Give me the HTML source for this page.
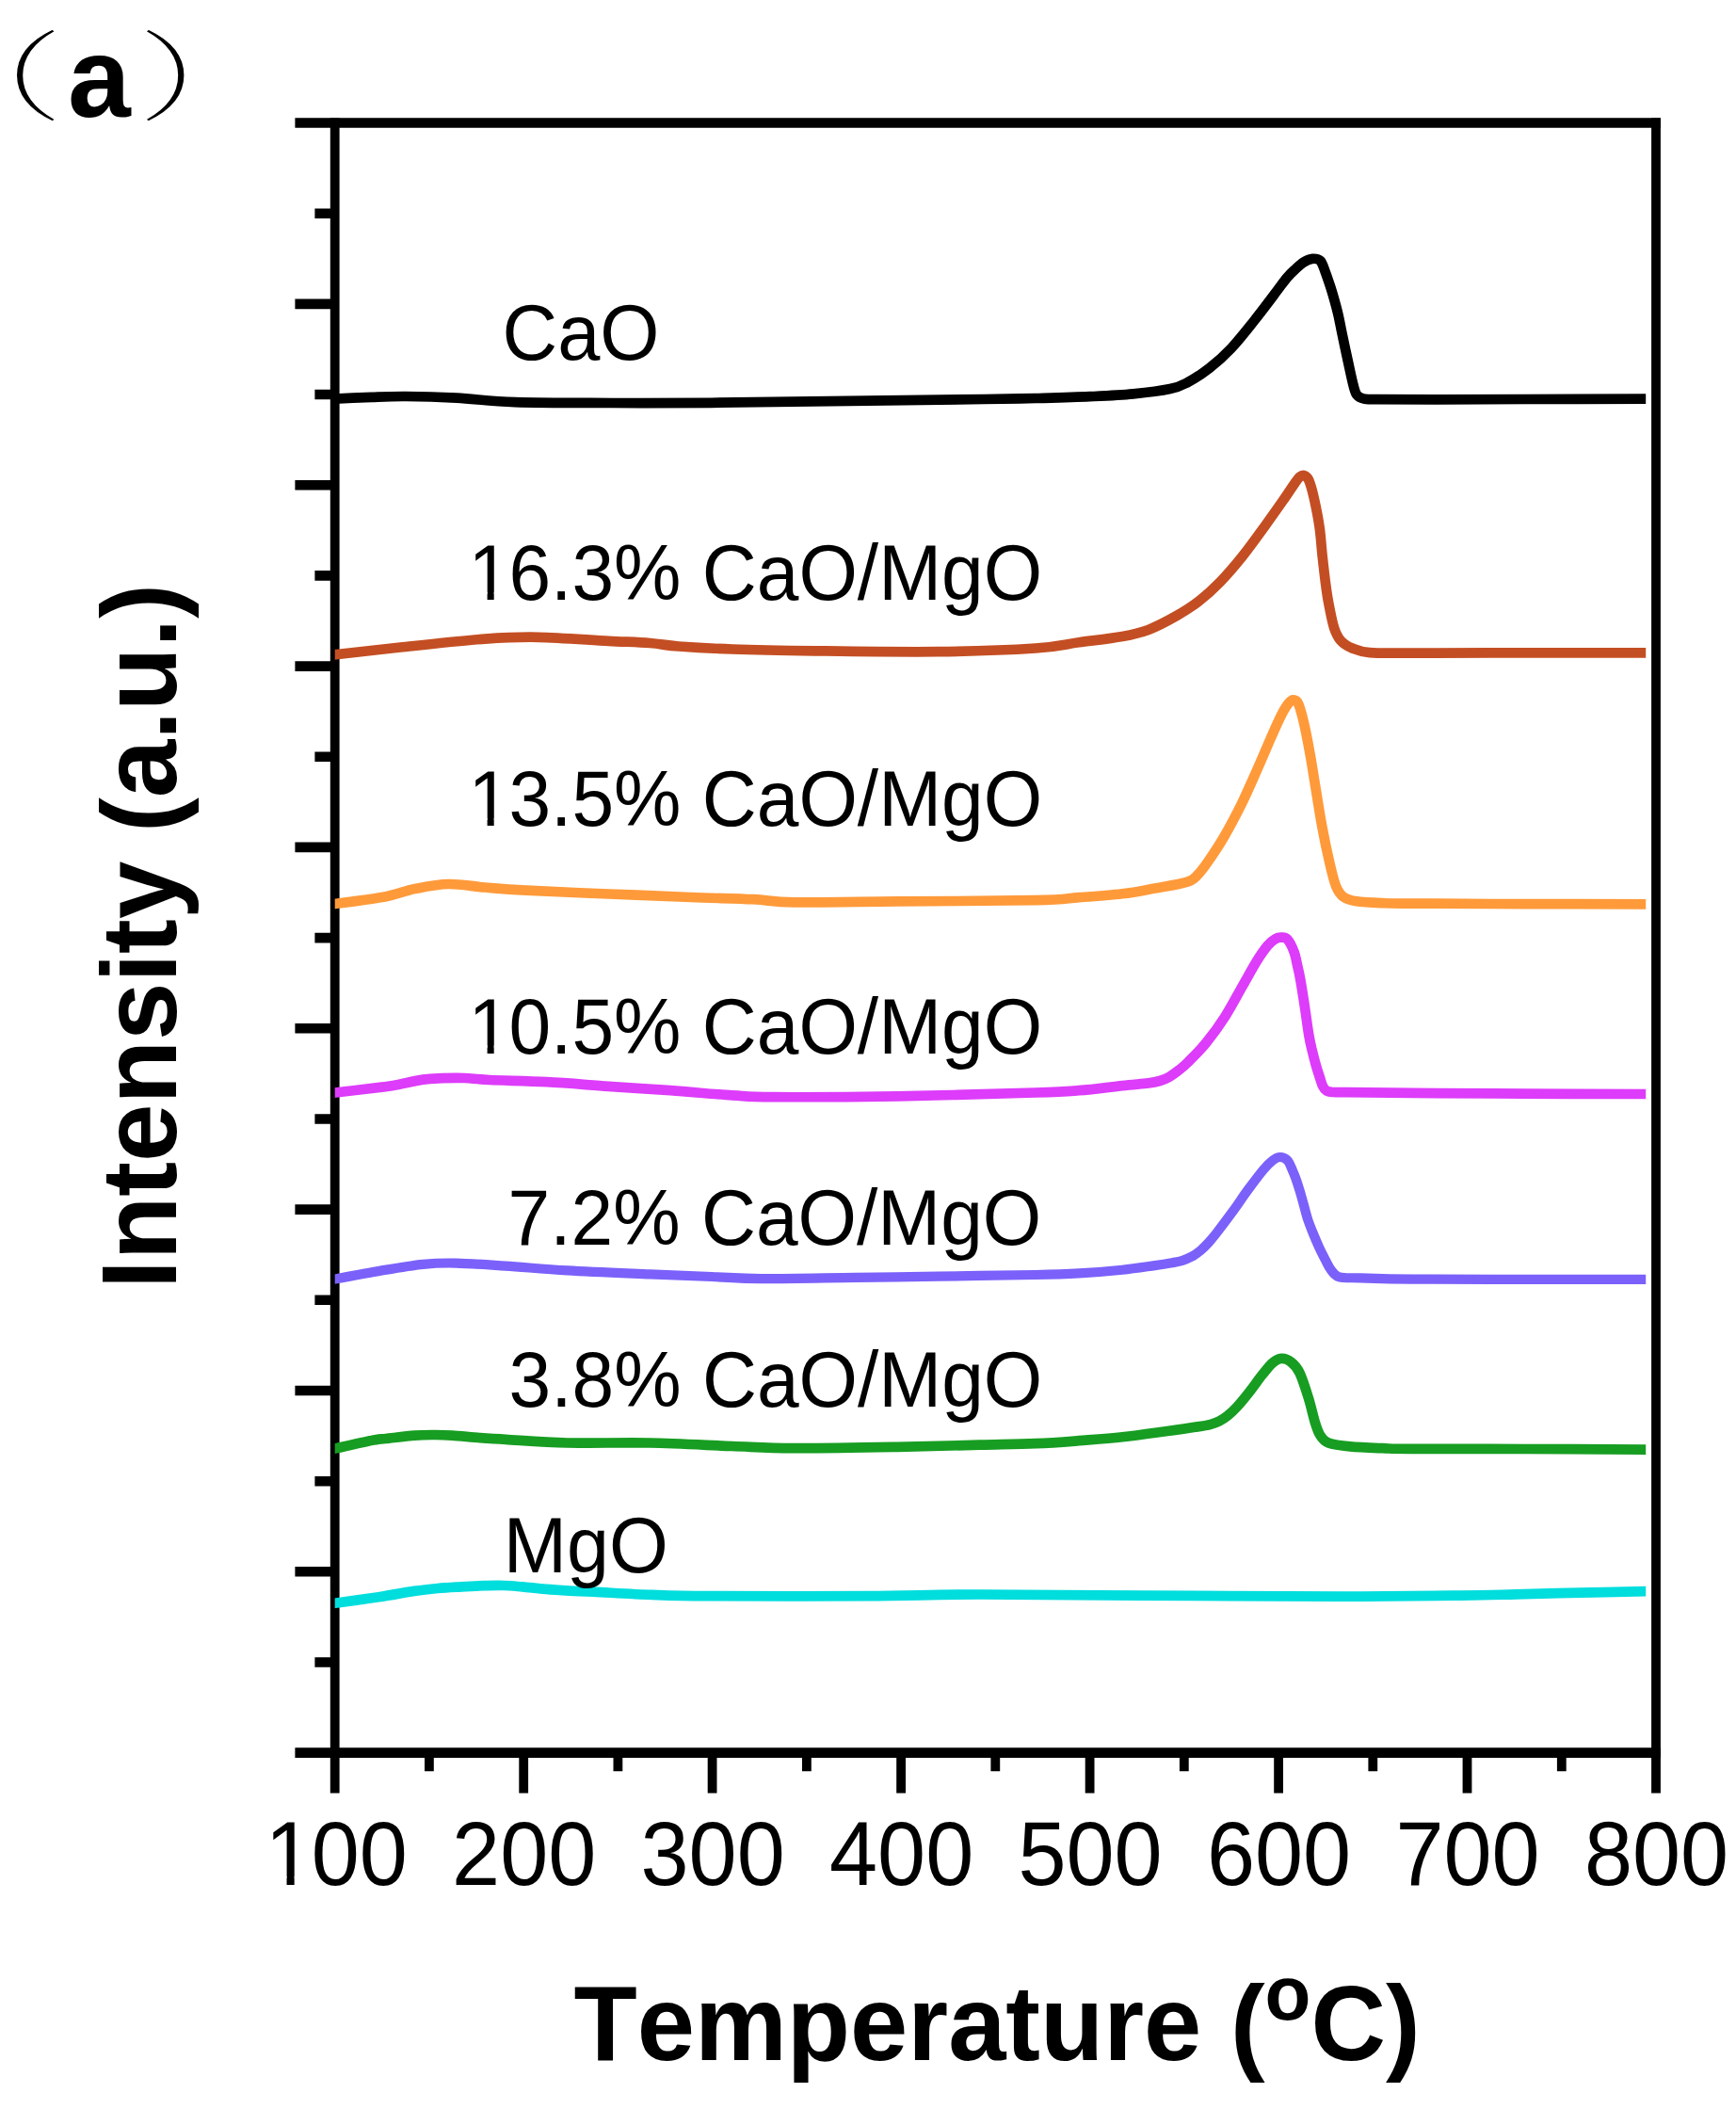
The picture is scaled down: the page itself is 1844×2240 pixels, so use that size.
<!DOCTYPE html>
<html lang="en"><head><meta charset="utf-8"><title>TPD profiles</title>
<style>
html,body{margin:0;padding:0;background:#fff;}
body{width:1844px;height:2240px;overflow:hidden;}
svg{display:block;}
text{font-family:"Liberation Sans",sans-serif;fill:#000;font-kerning:none;}
.b{font-weight:bold;}
.lab{font-size:80.6px;}
.tick{font-size:91.8px;}
.par{font-family:"Noto Serif CJK SC","Liberation Serif",serif;font-weight:200;stroke:#fff;stroke-width:1.3px;vector-effect:non-scaling-stroke;}
</style></head><body>
<svg width="1844" height="2240" viewBox="0 0 1844 2240">
<rect width="1844" height="2240" fill="#fff"/>
<g stroke="#000" fill="none" stroke-linecap="butt">
<path stroke-width="10.7" d="M313.4 130.5H1763.9 M313.4 1861.7H1763.9"/>
<path stroke-width="9.8" d="M355.7 125.6V1904.5 M1759.0 125.6V1904.5"/>
<path stroke-width="10.6" d="M334.4 226.7H355.7M313.4 322.9H355.7M334.4 419.0H355.7M313.4 515.2H355.7M334.4 611.4H355.7M313.4 707.6H355.7M334.4 803.7H355.7M313.4 899.9H355.7M334.4 996.1H355.7M313.4 1092.3H355.7M334.4 1188.5H355.7M313.4 1284.6H355.7M334.4 1380.8H355.7M313.4 1477.0H355.7M334.4 1573.2H355.7M313.4 1669.3H355.7M334.4 1765.5H355.7"/>
<path stroke-width="9.8" d="M455.9 1861.7V1881.2M556.2 1861.7V1904.5M656.4 1861.7V1881.2M756.6 1861.7V1904.5M856.9 1861.7V1881.2M957.1 1861.7V1904.5M1057.3 1861.7V1881.2M1157.6 1861.7V1904.5M1257.8 1861.7V1881.2M1358.1 1861.7V1904.5M1458.3 1861.7V1881.2M1558.5 1861.7V1904.5M1658.8 1861.7V1881.2"/>
</g>
<clipPath id="pc"><rect x="355.7" y="100" width="1392.5" height="1740"/></clipPath>
<g clip-path="url(#pc)" fill="none" stroke-width="10.7" stroke-linecap="round" stroke-linejoin="round">
<path stroke="#00DDDD" d="M347.7 1703.9C356.8 1702.6 386.8 1698.5 402.2 1696.2C417.6 1693.9 429.5 1691.4 440.0 1689.9C450.5 1688.4 456.7 1687.8 465.0 1687.0C473.3 1686.2 481.7 1685.8 490.0 1685.3C498.3 1684.8 507.5 1684.4 515.0 1684.2C522.5 1684.0 528.3 1683.8 535.0 1684.0C541.7 1684.2 547.5 1684.8 555.0 1685.4C562.5 1686.1 571.7 1687.2 580.0 1687.9C588.3 1688.6 596.6 1689.1 605.0 1689.6C613.4 1690.1 615.7 1690.0 630.3 1690.7C644.9 1691.4 671.8 1693.2 692.5 1693.9C713.2 1694.7 716.8 1695.0 754.8 1695.2C792.8 1695.4 873.2 1695.5 920.7 1695.2C968.2 1694.9 991.7 1693.6 1040.0 1693.5C1088.3 1693.4 1146.6 1694.2 1210.5 1694.6C1274.4 1694.9 1366.8 1695.6 1423.6 1695.6C1480.4 1695.6 1520.4 1695.0 1551.5 1694.6C1582.6 1694.2 1588.7 1693.9 1610.0 1693.4C1631.3 1692.9 1656.3 1692.1 1679.4 1691.6C1702.5 1691.1 1737.0 1690.4 1748.5 1690.2"/>
<path stroke="#179D22" d="M347.7 1540.3C355.9 1538.6 386.5 1531.7 396.9 1529.6C407.3 1527.5 402.7 1528.8 410.0 1528.0C417.3 1527.2 432.0 1525.3 440.7 1524.6C449.4 1523.9 455.4 1524.0 462.0 1524.0C468.6 1524.0 472.1 1524.1 480.1 1524.6C488.1 1525.1 500.5 1526.5 510.0 1527.2C519.5 1527.9 521.5 1527.9 537.0 1528.8C552.5 1529.7 577.2 1531.9 602.7 1532.5C628.2 1533.1 661.1 1531.9 690.3 1532.5C719.5 1533.1 752.3 1535.0 777.8 1536.0C803.3 1537.0 814.3 1538.0 843.5 1538.2C872.7 1538.4 920.2 1537.5 953.0 1536.9C985.8 1536.3 1016.0 1535.3 1040.5 1534.7C1065.0 1534.1 1082.4 1534.0 1100.0 1533.2C1117.6 1532.5 1130.7 1531.4 1146.1 1530.2C1161.5 1529.0 1176.8 1528.0 1192.2 1526.3C1207.6 1524.6 1224.9 1522.1 1238.2 1520.3C1251.5 1518.5 1264.0 1516.7 1272.0 1515.4C1280.0 1514.2 1282.2 1513.8 1286.0 1512.8C1289.8 1511.8 1292.0 1511.0 1295.0 1509.5C1298.0 1508.0 1300.9 1506.1 1304.0 1503.6C1307.1 1501.1 1309.7 1498.9 1313.7 1494.5C1317.7 1490.1 1323.5 1483.0 1328.0 1477.2C1332.5 1471.4 1337.0 1464.8 1341.0 1459.9C1345.0 1455.0 1348.4 1450.4 1351.7 1447.6C1355.0 1444.8 1357.8 1443.1 1361.0 1442.9C1364.2 1442.7 1368.0 1444.0 1371.2 1446.5C1374.5 1449.0 1377.4 1451.6 1380.5 1458.1C1383.6 1464.6 1387.3 1476.5 1390.0 1485.3C1392.7 1494.0 1394.8 1504.1 1396.8 1510.6C1398.8 1517.1 1399.9 1520.8 1402.3 1524.4C1404.7 1528.1 1405.8 1530.5 1411.1 1532.5C1416.4 1534.5 1424.5 1535.5 1434.1 1536.4C1443.7 1537.4 1457.7 1537.8 1468.7 1538.2C1479.7 1538.6 1474.8 1538.8 1500.0 1538.9C1525.2 1539.0 1578.6 1538.9 1620.0 1539.0C1661.4 1539.1 1727.1 1539.5 1748.5 1539.6"/>
<path stroke="#7B61FA" stroke-width="10.2" d="M347.7 1360.0C357.4 1358.2 388.7 1352.3 405.7 1349.4C422.7 1346.5 436.4 1344.1 449.5 1342.8C462.6 1341.5 469.9 1341.3 484.5 1341.6C499.1 1341.9 517.3 1343.3 537.0 1344.6C556.7 1345.9 577.2 1347.9 602.7 1349.4C628.2 1350.9 664.8 1352.3 690.3 1353.4C715.8 1354.5 736.3 1355.2 756.0 1356.0C775.7 1356.8 783.0 1358.0 808.5 1358.2C834.0 1358.4 877.8 1357.3 909.2 1356.9C940.6 1356.5 964.9 1356.1 996.7 1355.6C1028.5 1355.1 1075.1 1354.5 1100.0 1354.0C1124.9 1353.5 1130.7 1353.3 1146.1 1352.4C1161.5 1351.5 1178.8 1350.1 1192.2 1348.7C1205.6 1347.3 1217.9 1345.3 1226.7 1344.1C1235.5 1342.8 1240.1 1342.1 1245.0 1341.2C1249.9 1340.3 1252.5 1339.9 1256.0 1338.8C1259.5 1337.7 1262.7 1336.4 1266.0 1334.6C1269.3 1332.8 1272.6 1330.3 1275.6 1327.8C1278.6 1325.3 1281.2 1322.6 1284.0 1319.5C1286.8 1316.4 1288.4 1314.6 1292.7 1309.0C1297.0 1303.4 1304.3 1293.7 1309.9 1286.0C1315.5 1278.3 1320.8 1270.2 1326.2 1262.9C1331.6 1255.6 1337.8 1247.3 1342.1 1242.2C1346.4 1237.1 1349.3 1234.4 1352.2 1232.2C1355.1 1230.0 1357.1 1229.0 1359.7 1229.0C1362.3 1229.0 1365.4 1230.2 1367.6 1232.5C1369.8 1234.8 1371.4 1239.8 1372.9 1243.1C1374.4 1246.3 1375.2 1248.3 1376.5 1252.0C1377.8 1255.7 1379.3 1260.4 1380.7 1265.0C1382.1 1269.6 1383.4 1274.5 1384.8 1279.5C1386.2 1284.5 1387.5 1290.1 1389.1 1295.0C1390.7 1299.9 1392.4 1304.0 1394.4 1309.0C1396.4 1314.0 1399.1 1320.2 1401.3 1325.0C1403.5 1329.8 1405.5 1333.6 1407.5 1337.5C1409.5 1341.4 1410.9 1345.1 1413.4 1348.2C1415.9 1351.3 1417.2 1354.8 1422.6 1356.3C1428.0 1357.8 1432.7 1357.0 1445.6 1357.4C1458.5 1357.8 1470.9 1358.4 1500.0 1358.6C1529.1 1358.8 1578.6 1358.8 1620.0 1358.8C1661.4 1358.8 1727.1 1358.8 1748.5 1358.8"/>
<path stroke="#DD3CFA" d="M347.7 1161.6C357.4 1160.4 393.6 1156.1 405.7 1154.6C417.8 1153.1 412.7 1153.7 420.0 1152.4C427.3 1151.1 441.2 1147.8 449.5 1146.6C457.8 1145.4 462.7 1145.5 470.0 1145.2C477.3 1144.9 484.9 1144.7 493.2 1145.0C501.5 1145.3 505.4 1146.3 520.0 1147.0C534.6 1147.7 559.7 1148.1 580.8 1149.2C601.9 1150.3 624.6 1152.3 646.5 1153.8C668.4 1155.3 690.3 1156.6 712.2 1158.2C734.1 1159.8 759.6 1162.2 777.8 1163.4C796.0 1164.6 792.4 1165.1 821.6 1165.2C850.8 1165.3 906.6 1165.1 953.0 1164.3C999.4 1163.5 1067.8 1161.5 1100.0 1160.5C1132.2 1159.5 1130.7 1159.4 1146.1 1158.2C1161.5 1157.0 1179.9 1154.4 1192.2 1153.1C1204.5 1151.8 1213.4 1151.2 1220.0 1150.4C1226.6 1149.6 1228.3 1149.1 1232.0 1148.0C1235.7 1146.9 1238.7 1145.7 1242.0 1143.8C1245.3 1141.9 1248.7 1139.4 1252.0 1136.8C1255.3 1134.2 1256.9 1133.1 1261.8 1128.2C1266.7 1123.3 1274.6 1115.6 1281.2 1107.5C1287.8 1099.4 1294.8 1089.8 1301.2 1079.8C1307.6 1069.8 1313.9 1057.6 1319.6 1047.6C1325.3 1037.6 1331.0 1027.1 1335.5 1019.9C1340.0 1012.7 1343.3 1008.0 1346.5 1004.2C1349.7 1000.5 1352.1 998.8 1354.5 997.4C1356.9 996.0 1358.8 995.6 1361.0 995.7C1363.2 995.8 1365.3 995.2 1367.6 997.8C1369.9 1000.4 1372.9 1006.6 1374.6 1011.1C1376.3 1015.6 1376.9 1020.2 1378.0 1025.0C1379.1 1029.8 1379.9 1032.5 1381.2 1040.0C1382.5 1047.5 1384.5 1060.0 1386.0 1070.0C1387.5 1080.0 1389.1 1092.5 1390.4 1100.0C1391.7 1107.5 1392.4 1110.0 1393.6 1115.0C1394.8 1120.0 1396.1 1125.2 1397.4 1130.0C1398.8 1134.8 1400.4 1139.9 1401.7 1143.8C1403.0 1147.7 1403.8 1151.0 1405.0 1153.5C1406.2 1156.0 1407.2 1157.4 1409.0 1158.5C1410.8 1159.6 1412.5 1159.7 1416.0 1160.0C1419.5 1160.3 1416.0 1160.0 1430.0 1160.2C1444.0 1160.4 1468.3 1160.7 1500.0 1160.9C1531.7 1161.1 1578.6 1161.4 1620.0 1161.6C1661.4 1161.8 1727.1 1161.9 1748.5 1162.0"/>
<path stroke="#FF9A3A" d="M347.7 961.0C357.4 959.7 390.2 955.8 405.7 953.0C421.2 950.2 428.9 946.3 440.7 944.0C452.5 941.7 464.1 939.2 476.5 939.0C488.9 938.8 501.4 941.4 515.1 942.5C528.8 943.6 537.0 944.4 558.9 945.6C580.8 946.8 617.3 948.3 646.5 949.5C675.7 950.7 708.5 952.0 734.0 953.0C759.5 954.0 781.5 954.3 799.7 955.2C818.0 956.1 818.0 957.9 843.5 958.3C869.0 958.7 910.2 957.8 953.0 957.4C995.8 957.0 1067.8 956.9 1100.0 956.2C1132.2 955.5 1130.7 954.4 1146.1 953.2C1161.5 952.1 1178.8 950.9 1192.2 949.3C1205.6 947.7 1215.2 945.6 1226.7 943.5C1238.2 941.4 1253.6 939.1 1261.3 936.6C1269.0 934.1 1269.0 932.4 1272.8 928.5C1276.6 924.6 1279.7 920.2 1284.3 913.5C1288.9 906.8 1294.7 898.2 1300.5 888.2C1306.3 878.2 1313.2 865.1 1318.9 853.6C1324.6 842.1 1329.5 830.6 1334.6 819.1C1339.7 807.6 1345.2 794.5 1349.6 784.5C1354.0 774.5 1358.0 765.4 1361.2 759.2C1364.4 753.0 1366.5 749.8 1368.6 747.2C1370.7 744.6 1371.9 743.4 1373.6 743.4C1375.3 743.4 1377.2 743.4 1379.0 747.2C1380.8 751.0 1382.5 757.2 1384.6 766.1C1386.7 775.0 1389.4 789.1 1391.5 800.6C1393.6 812.1 1395.1 822.5 1397.2 835.2C1399.3 847.9 1401.6 863.2 1404.1 876.7C1406.6 890.2 1409.7 905.1 1412.2 915.9C1414.7 926.6 1416.6 935.1 1419.1 941.2C1421.6 947.3 1423.5 950.0 1427.2 952.7C1430.9 955.4 1434.1 956.2 1441.0 957.3C1447.9 958.4 1458.9 958.8 1468.7 959.2C1478.5 959.6 1474.8 959.5 1500.0 959.6C1525.2 959.8 1578.3 960.0 1620.0 960.1C1661.7 960.2 1728.3 960.3 1750.0 960.3"/>
<path stroke="#C44E23" d="M347.7 696.3C361.0 694.8 399.7 690.3 427.6 687.3C455.5 684.3 491.0 680.4 515.1 678.6C539.2 676.9 550.1 676.4 572.0 676.8C593.9 677.2 626.8 679.8 646.5 680.8C666.2 681.8 677.9 682.0 690.3 683.0C702.7 684.0 706.3 685.4 720.9 686.5C735.5 687.6 753.7 688.7 777.8 689.5C801.9 690.3 828.9 690.8 865.4 691.3C901.9 691.8 957.6 692.7 996.7 692.2C1035.8 691.7 1075.1 690.1 1100.0 688.5C1124.9 686.9 1130.7 684.4 1146.1 682.3C1161.5 680.2 1179.9 678.1 1192.2 675.9C1204.5 673.7 1210.2 672.5 1219.8 668.9C1229.4 665.2 1241.0 659.0 1249.8 654.0C1258.6 649.0 1265.1 645.0 1272.8 639.0C1280.5 633.0 1288.1 626.3 1295.9 618.2C1303.8 610.1 1311.9 600.6 1319.9 590.6C1327.9 580.6 1336.8 568.1 1343.9 558.3C1351.0 548.5 1357.4 539.4 1362.7 531.8C1368.0 524.2 1372.6 517.0 1375.6 512.8C1378.6 508.6 1379.2 507.7 1380.8 506.4C1382.3 505.1 1383.4 504.4 1384.9 504.9C1386.4 505.4 1388.2 505.6 1390.0 509.5C1391.8 513.4 1393.7 520.0 1395.6 528.4C1397.5 536.8 1400.1 549.7 1401.6 560.0C1403.1 570.3 1403.5 580.0 1404.6 590.0C1405.7 600.0 1407.0 611.5 1408.1 620.0C1409.2 628.5 1409.9 633.5 1411.4 641.3C1412.9 649.1 1414.9 660.1 1417.0 666.6C1419.1 673.1 1421.0 676.9 1424.2 680.5C1427.4 684.1 1431.3 686.4 1436.4 688.5C1441.5 690.6 1444.2 692.2 1454.8 693.1C1465.4 694.0 1472.5 693.6 1500.0 693.6C1527.5 693.6 1578.6 693.4 1620.0 693.4C1661.4 693.4 1727.1 693.4 1748.5 693.4"/>
<path stroke="#000000" d="M347.7 424.0C355.6 423.6 381.1 422.3 395.0 421.8C408.9 421.3 416.0 420.9 431.0 421.0C446.0 421.1 465.7 421.6 485.0 422.6C504.3 423.6 519.5 426.3 547.0 427.2C574.5 428.1 615.3 427.9 650.0 428.0C684.7 428.1 709.8 428.2 755.0 427.8C800.2 427.4 872.7 426.2 921.0 425.6C969.3 425.0 1015.2 424.4 1045.0 424.0C1074.8 423.6 1081.2 423.5 1100.0 423.0C1118.8 422.5 1140.3 422.0 1157.6 421.2C1174.9 420.4 1189.5 419.8 1203.7 418.4C1217.9 417.0 1233.3 415.1 1242.9 413.1C1252.5 411.1 1254.4 409.8 1261.3 406.2C1268.2 402.6 1276.5 397.4 1284.3 391.3C1292.1 385.2 1300.0 378.2 1307.9 369.8C1315.8 361.4 1323.9 351.0 1331.9 341.0C1339.9 331.0 1349.9 317.6 1355.7 309.9C1361.5 302.2 1363.7 298.9 1367.0 295.0C1370.3 291.1 1372.5 289.1 1375.5 286.3C1378.5 283.5 1381.9 280.3 1385.0 278.4C1388.1 276.5 1391.1 275.0 1394.0 274.8C1396.9 274.6 1400.2 274.6 1402.5 277.0C1404.8 279.4 1406.0 284.5 1407.8 289.0C1409.5 293.5 1411.4 299.2 1413.0 304.0C1414.6 308.8 1415.8 313.0 1417.2 318.0C1418.6 323.0 1420.0 328.0 1421.4 334.0C1422.8 340.0 1423.8 345.7 1425.5 354.0C1427.2 362.3 1429.9 374.8 1431.9 384.0C1433.9 393.2 1435.9 403.1 1437.5 409.0C1439.1 414.9 1439.4 417.1 1441.3 419.5C1443.2 421.9 1445.5 422.8 1449.0 423.6C1452.5 424.4 1449.4 424.0 1462.2 424.1C1475.0 424.2 1499.7 424.3 1526.0 424.3C1552.3 424.3 1582.9 424.1 1620.0 424.0C1657.1 423.9 1727.1 423.8 1748.5 423.7"/>
</g>
<text class="tick" transform="translate(279.62 2002.4) scale(1 1.048)"><tspan dx="1.84">1</tspan><tspan dx="-1.84">00</tspan></text>
<rect x="286.95" y="1993.21" width="17.59" height="10.69" fill="#fff"/><rect x="312.65" y="1993.21" width="16.88" height="10.69" fill="#fff"/>
<text class="tick" transform="translate(480.09 2002.4) scale(1 1.048)">200</text>
<text class="tick" transform="translate(680.56 2002.4) scale(1 1.048)">300</text>
<text class="tick" transform="translate(881.03 2002.4) scale(1 1.048)">400</text>
<text class="tick" transform="translate(1081.50 2002.4) scale(1 1.048)">500</text>
<text class="tick" transform="translate(1281.97 2002.4) scale(1 1.048)">600</text>
<text class="tick" transform="translate(1482.45 2002.4) scale(1 1.048)">700</text>
<text class="tick" transform="translate(1682.92 2002.4) scale(1 1.048)">800</text>
<text class="lab" style="font-size:81.2px" transform="translate(533.5 382.3) scale(1 1.035)">CaO</text>
<text class="lab" style="font-size:80.3px" transform="translate(495.8 637.3) scale(1 1.035)"><tspan dx="1.61">1</tspan><tspan dx="-1.61">6.3% CaO/MgO</tspan></text>
<rect x="502.02" y="629.09" width="15.58" height="9.71" fill="#fff"/><rect x="524.69" y="629.09" width="14.95" height="9.71" fill="#fff"/>
<text class="lab" style="font-size:80.3px" transform="translate(495.8 877.3) scale(1 1.035)"><tspan dx="1.61">1</tspan><tspan dx="-1.61">3.5% CaO/MgO</tspan></text>
<rect x="502.02" y="869.09" width="15.58" height="9.71" fill="#fff"/><rect x="524.69" y="869.09" width="14.95" height="9.71" fill="#fff"/>
<text class="lab" style="font-size:80.3px" transform="translate(495.8 1118.5) scale(1 1.035)"><tspan dx="1.61">1</tspan><tspan dx="-1.61">0.5% CaO/MgO</tspan></text>
<rect x="502.02" y="1110.29" width="15.58" height="9.71" fill="#fff"/><rect x="524.69" y="1110.29" width="14.95" height="9.71" fill="#fff"/>
<text class="lab" style="font-size:80.3px" transform="translate(539.6 1321.8) scale(1 1.035)">7.2% CaO/MgO</text>
<text class="lab" style="font-size:80.3px" transform="translate(540.6 1493.5) scale(1 1.035)">3.8% CaO/MgO</text>
<text class="lab" style="font-size:80.8px" transform="translate(534.8 1670.2) scale(1 1.035)">MgO</text>
<text class="par" font-size="105" transform="translate(-79.0 120.3) scale(1.40 1)">（</text>
<text class="b" font-size="120" x="72" y="123.5">a</text>
<text class="par" font-size="105" transform="translate(145.4 120.3) scale(1.40 1)">）</text>
<text class="b" font-size="110.5" text-anchor="middle" transform="translate(187 994.5) rotate(-90) scale(1 1.02)">Intensity (a.u.)</text>
<text class="b" font-size="110.1" transform="translate(609.5 2187.8) scale(1 1.02)">Temperature (<tspan font-size="80" dy="-42">o</tspan><tspan dy="42">C)</tspan></text>
</svg></body></html>
